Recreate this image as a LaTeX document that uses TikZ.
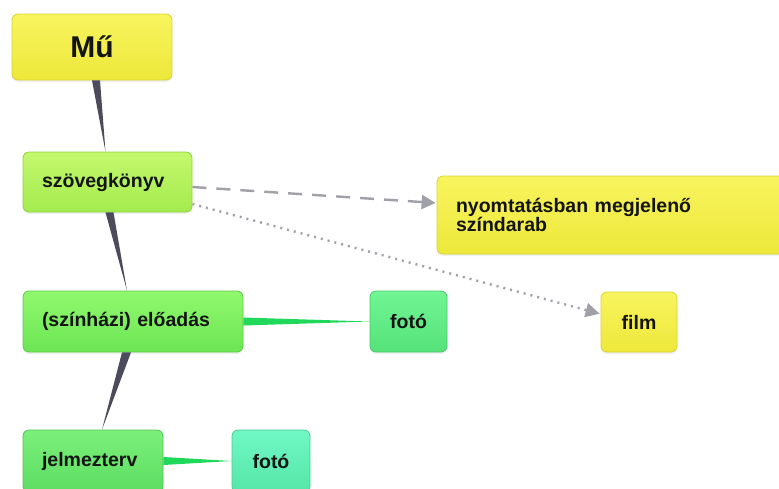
\documentclass[tikz,border=0pt]{standalone}
\usepackage{fontspec}
\setmainfont{Liberation Sans}
\usetikzlibrary{arrows.meta,shadows}
% box colours
\definecolor{sargaT}{HTML}{F8F45E}
\definecolor{sargaB}{HTML}{EDE83A}
\definecolor{sargaK}{HTML}{D9D232}
\definecolor{szovegT}{HTML}{C4F86C}
\definecolor{szovegB}{HTML}{A4EB4E}
\definecolor{szovegK}{HTML}{8ED240}
\definecolor{eloadT}{HTML}{90F86E}
\definecolor{eloadB}{HTML}{6CE653}
\definecolor{eloadK}{HTML}{5ACB46}
\definecolor{fotoT}{HTML}{70F694}
\definecolor{fotoB}{HTML}{55E27A}
\definecolor{fotoK}{HTML}{48C86A}
\definecolor{jelmezT}{HTML}{7CF07A}
\definecolor{jelmezB}{HTML}{5CDD62}
\definecolor{jelmezK}{HTML}{4CC454}
\definecolor{fotokT}{HTML}{70F8C4}
\definecolor{fotokB}{HTML}{55E6A8}
\definecolor{fotokK}{HTML}{48CC92}
\definecolor{sotet}{HTML}{4B4B5B}
\definecolor{zold}{HTML}{20D85A}
\definecolor{szurke}{HTML}{A0A0A8}
\begin{document}
\begin{tikzpicture}[x=1pt,y=-1pt,>={Triangle[length=14pt,width=14pt]},
	doboz/.style={rectangle,rounded corners=6pt,line width=0.8pt,
		draw=#1K,top color=#1T,bottom color=#1B,
		drop shadow={opacity=0.12,shadow xshift=0pt,shadow yshift=-2pt},
		inner xsep=19pt,inner ysep=0pt,align=left,text=black!92,
		font=\bfseries\fontsize{19.5}{20}\selectfont},
	szar/.style={fill=sotet},
	ag/.style={fill=zold},
	kapcs/.style={draw=szurke,line width=2.4pt,->,shorten >=1pt}]
	\useasboundingbox (0,0) rectangle (779,488);
	\clip (0,0) rectangle (779,488);
	% nodes
	\node[doboz=sarga,minimum width=160pt,minimum height=66pt,align=center,
		font=\bfseries\fontsize{30}{32}\selectfont] (mu) at (92,47) {Mű};
	\node[doboz=szoveg,text width=131pt,minimum height=60pt] (szoveg) at (107.5,182) {szövegkönyv};
	\node[doboz=sarga,text width=320pt,minimum height=78pt] (nyomtat) at (616,215)
		{nyomtatásban megjelenő\\[-1pt]színdarab\\[8pt]};
	\node[doboz=eload,text width=182pt,minimum height=61pt] (eload) at (133,321.5) {(színházi) előadás};
	\node[doboz=foto,text width=39pt,minimum height=61pt,align=center] (foto) at (408.5,321.5) {fotó};
	\node[doboz=sarga,text width=38pt,minimum height=60pt,align=center] (film) at (639,322) {film};
	\node[doboz=jelmez,text width=102pt,minimum height=62pt] (jelmez) at (93,461) {jelmezterv};
	\node[doboz=fotok,text width=40pt,minimum height=62pt,align=center] (fotok) at (271,461) {fotó};
	% tapered branches
	\fill[szar] (mu.south) -- ([xshift=8pt]mu.south) -- ([xshift=-2pt]szoveg.north) -- cycle;
	\fill[szar] ([xshift=-2pt]szoveg.south) -- ([xshift=6pt]szoveg.south) -- ([xshift=-6pt]eload.north) -- cycle;
	\fill[szar] ([xshift=-11pt]eload.south) -- ([xshift=-2pt]eload.south) -- ([xshift=9pt]jelmez.north) -- cycle;
	\fill[ag] ([yshift=4pt]eload.east) -- ([yshift=-4pt]eload.east) -- (foto.west) -- cycle;
	\fill[ag] ([yshift=4pt]jelmez.east) -- ([yshift=-4pt]jelmez.east) -- (fotok.west) -- cycle;
	% relations
	\draw[kapcs,dash pattern=on 14pt off 10pt] ([yshift=-5pt]szoveg.east) -- ([yshift=12pt]nyomtat.west);
	\draw[kapcs,line width=2.4pt,dash pattern=on 2pt off 5pt] ([yshift=-22pt]szoveg.east) -- ([yshift=8pt]film.west);
\end{tikzpicture}
\end{document}
